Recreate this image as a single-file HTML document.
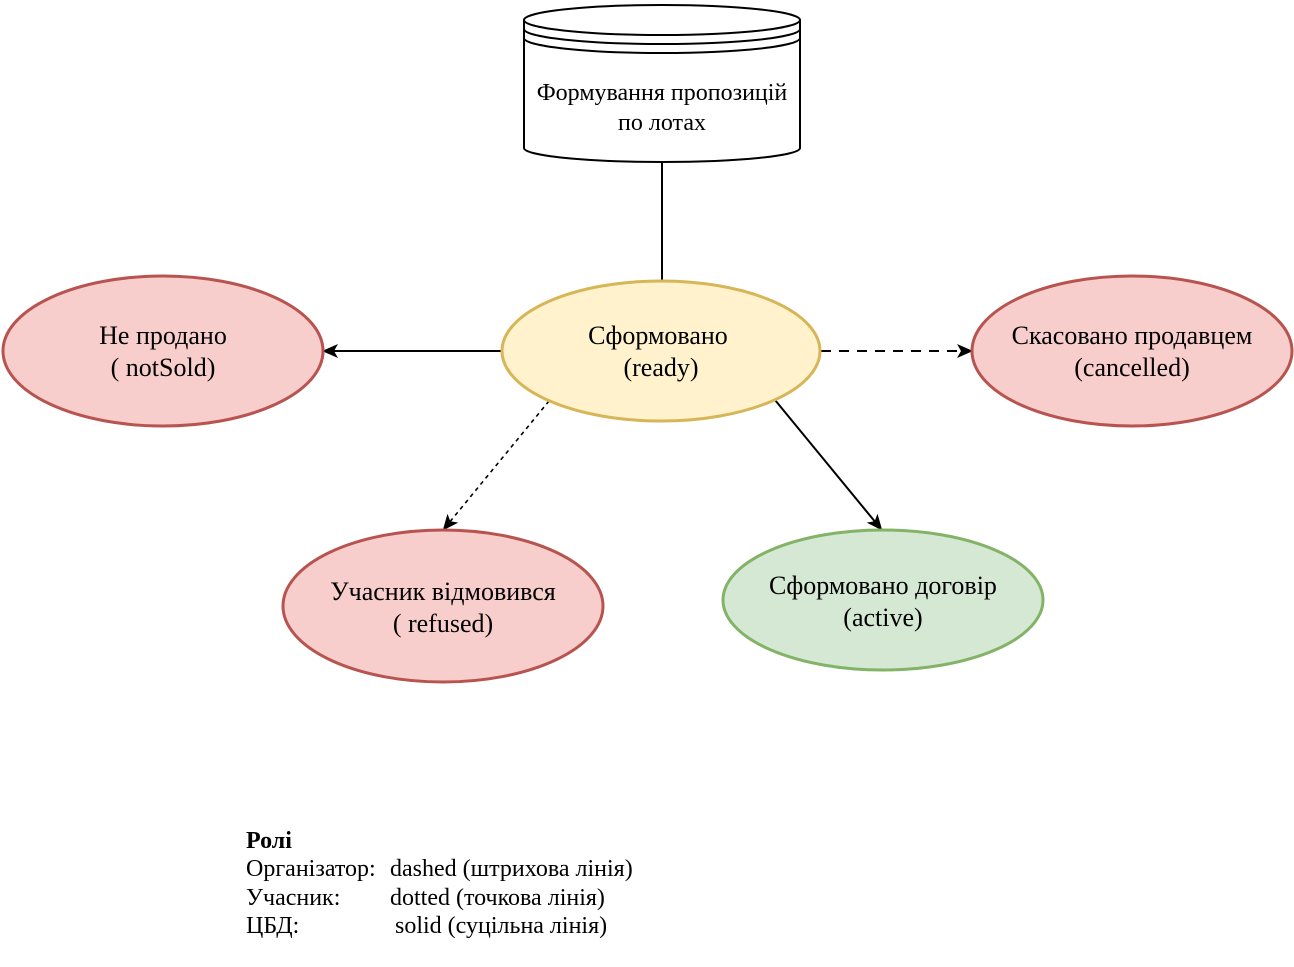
<!DOCTYPE html>
<html><head><meta charset="utf-8"><style>
html,body{margin:0;padding:0;background:#fff;}
svg text{font-family:"Liberation Serif","Noto Serif CJK SC",serif;font-size:24px;fill:#000;}
svg text.n{font-size:26px;}
</style></head><body>
<svg width="1294" height="962" xmlns="http://www.w3.org/2000/svg">
<defs>
<marker id="a" markerWidth="16" markerHeight="16" refX="14" refY="8" orient="auto" markerUnits="userSpaceOnUse">
<path d="M0,1 L16,8 L0,15 L4,8 Z" fill="#000"/></marker>
</defs>
<path d="M524,20 L524,148 A138,14 0 0 0 800,148 L800,20" fill="#fff" stroke="#000" stroke-width="2"/>
<ellipse cx="662" cy="20" rx="138" ry="15" fill="#fff" stroke="#000" stroke-width="2"/>
<path d="M524,29 A138,15 0 0 0 800,29" fill="none" stroke="#000" stroke-width="2"/>
<path d="M524,38 A138,15 0 0 0 800,38" fill="none" stroke="#000" stroke-width="2"/>
<text x="662" y="100" text-anchor="middle">Формування пропозицій</text>
<text x="662" y="130" text-anchor="middle">по лотах</text>
<line x1="662" y1="162" x2="662" y2="281" stroke="#000" stroke-width="2"/>
<line x1="502" y1="351" x2="324" y2="351" stroke="#000" stroke-width="2" marker-end="url(#a)"/>
<line x1="821" y1="351" x2="971" y2="351" stroke="#000" stroke-width="2" stroke-dasharray="10,8" marker-end="url(#a)"/>
<line x1="549" y1="401" x2="444" y2="529" stroke="#000" stroke-width="1.6" stroke-dasharray="4,4" marker-end="url(#a)"/>
<line x1="775" y1="400" x2="881" y2="529" stroke="#000" stroke-width="2" marker-end="url(#a)"/>
<ellipse cx="163" cy="351" rx="160" ry="75" fill="#f8cecc" stroke="#b85450" stroke-width="3"/>
<text class="n" x="163" y="344" text-anchor="middle">Не продано</text>
<text class="n" x="163" y="376" text-anchor="middle">( notSold)</text>
<ellipse cx="661" cy="351" rx="159" ry="70" fill="#fff2cc" stroke="#d6b656" stroke-width="3"/>
<text class="n" x="658" y="344" text-anchor="middle">Сформовано</text>
<text class="n" x="661" y="376" text-anchor="middle">(ready)</text>
<ellipse cx="1132" cy="351" rx="160" ry="75" fill="#f8cecc" stroke="#b85450" stroke-width="3"/>
<text class="n" x="1132" y="344" text-anchor="middle">Скасовано продавцем</text>
<text class="n" x="1132" y="376" text-anchor="middle">(cancelled)</text>
<ellipse cx="443" cy="606" rx="160" ry="76" fill="#f8cecc" stroke="#b85450" stroke-width="3"/>
<text class="n" x="443" y="600" text-anchor="middle">Учасник відмовився</text>
<text class="n" x="443" y="632" text-anchor="middle">( refused)</text>
<ellipse cx="883" cy="600" rx="160" ry="70" fill="#d5e8d4" stroke="#82b366" stroke-width="3"/>
<text class="n" x="883" y="594" text-anchor="middle">Сформовано договір</text>
<text class="n" x="883" y="626" text-anchor="middle">(active)</text>
<text x="246" y="848" font-weight="bold">Ролі</text>
<text x="246" y="876">Організатор:</text><text x="390" y="876">dashed (штрихова лінія)</text>
<text x="246" y="905">Учасник:</text><text x="390" y="905">dotted (точкова лінія)</text>
<text x="246" y="933">ЦБД:</text><text x="395" y="933">solid (суцільна лінія)</text>
</svg>
</body></html>
